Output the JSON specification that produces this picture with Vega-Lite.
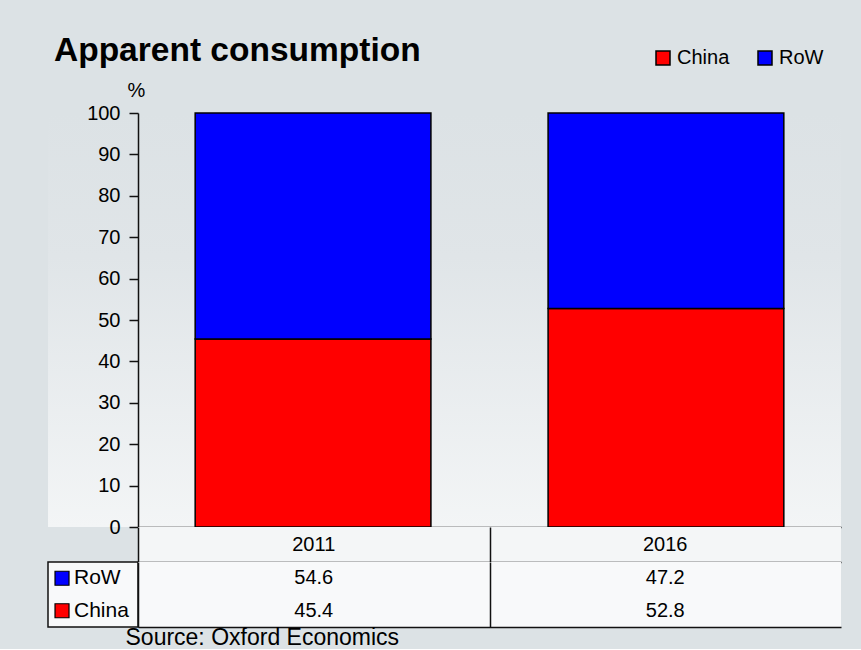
{
  "$schema": "https://vega.github.io/schema/vega-lite/v6.json",
  "background": "#dce2e5",
  "padding": {"left": 47, "right": 21, "top": 33, "bottom": 0},
  "title": {"text": "Apparent consumption", "anchor": "start", "frame": "group", "fontSize": 33.5, "fontWeight": "bold", "font": "Liberation Sans", "color": "#000", "dx": 6, "offset": -20},
  "config": {
    "font": "Liberation Sans",
    "view": {"stroke": null},
    "axis": {"labelFont": "Liberation Sans", "titleFont": "Liberation Sans", "labelColor": "#000", "titleColor": "#000"},
    "legend": {"labelFont": "Liberation Sans", "labelColor": "#000"}
  },
  "datasets": {
    "consumption": [
      {"year": "2011", "series": "China", "value": 45.4},
      {"year": "2011", "series": "RoW", "value": 54.6},
      {"year": "2016", "series": "China", "value": 52.8},
      {"year": "2016", "series": "RoW", "value": 47.2}
    ],
    "years": [{"year": "2011"}, {"year": "2016"}],
    "serieslist": [{"series": "RoW"}, {"series": "China"}]
  },
  "columns": 2,
  "spacing": 0,
  "bounds": "flush",
  "align": "each",
  "resolve": {
    "scale": {"x": "independent", "y": "independent", "color": "independent"},
    "axis": {"x": "independent", "y": "independent"},
    "legend": {"color": "independent"}
  },
  "concat": [
    {
      "width": 90, "height": 414,
      "data": {"name": "years"},
      "view": {"stroke": null, "fill": {"gradient": "linear", "x1": 0, "y1": 0, "x2": 0, "y2": 1, "stops": [{"offset": 0, "color": "#dce2e5"}, {"offset": 0.35, "color": "#e0e5e8"}, {"offset": 1, "color": "#f3f5f6"}]}},
      "mark": {"type": "point", "opacity": 0},
      "encoding": {}
    },
    {
      "width": 703, "height": 414,
      "data": {"name": "consumption"},
      "view": {"stroke": null, "fill": {"gradient": "linear", "x1": 0, "y1": 0, "x2": 0, "y2": 1, "stops": [{"offset": 0, "color": "#dce2e5"}, {"offset": 0.35, "color": "#e0e5e8"}, {"offset": 1, "color": "#f3f5f6"}]}},
      "mark": {"type": "bar", "stroke": "#000", "strokeWidth": 1.5},
      "encoding": {
        "x": {"field": "year", "type": "nominal", "scale": {"paddingInner": 0.332, "paddingOuter": 0.162},
              "axis": {"labels": false, "ticks": false, "title": null, "domain": true, "domainColor": "#111", "domainWidth": 1.5, "grid": false}},
        "y": {"field": "value", "type": "quantitative", "stack": "zero", "scale": {"domain": [0, 100], "nice": false},
              "axis": {"values": [0, 10, 20, 30, 40, 50, 60, 70, 80, 90, 100], "grid": false, "domainColor": "#111", "domainWidth": 1.5, "tickColor": "#111", "tickWidth": 1.5, "tickSize": 9, "labelFontSize": 20, "labelPadding": 9,
                       "title": "%", "titleAngle": 0, "titleAlign": "center", "titleBaseline": "middle", "titleX": -2, "titleY": -23, "titleFontSize": 20, "titleFontWeight": "normal"}},
        "color": {"field": "series", "type": "nominal", "scale": {"domain": ["China", "RoW"], "range": ["#ff0000", "#0000ff"]},
                  "legend": {"orient": "none", "direction": "horizontal", "legendX": 515, "legendY": -65, "title": null, "symbolType": "square", "symbolSize": 196, "symbolStrokeColor": "#000", "symbolStrokeWidth": 1.5, "symbolOpacity": 1, "labelFontSize": 20, "labelOffset": 4, "columnPadding": 25}},
        "order": {"field": "series", "sort": "ascending"}
      }
    },
    {
      "width": 90, "height": 35,
      "data": {"name": "years"},
      "view": {"stroke": null},
      "mark": {"type": "point", "opacity": 0},
      "encoding": {}
    },
    {
      "width": 703, "height": 35,
      "data": {"name": "years"},
      "view": {"stroke": null, "fill": "#f4f6f7"},
      "mark": {"type": "text", "fontSize": 20, "color": "#000"},
      "encoding": {
        "x": {"field": "year", "type": "nominal", "scale": {"paddingInner": 0, "paddingOuter": 0},
              "axis": {"labels": false, "ticks": false, "title": null, "domain": true, "domainColor": "#111", "domainWidth": 1.5, "grid": true, "gridColor": "#111", "gridWidth": 1.5, "tickBand": "extent",
                       "gridOpacity": {"condition": {"test": "datum.index == 1", "value": 0}, "value": 1}}},
        "text": {"field": "year", "type": "nominal"}
      }
    },
    {
      "width": 90, "height": 65,
      "data": {"name": "serieslist"},
      "view": {"stroke": "#111", "strokeWidth": 1.5, "fill": "#f8f9fa"},
      "layer": [
        {
          "mark": {"type": "point", "shape": "square", "filled": true, "size": 196, "stroke": "#000", "strokeWidth": 1.2, "opacity": 1},
          "encoding": {
            "x": {"datum": "swatch", "type": "nominal", "scale": {"type": "band", "domain": ["swatch", "name"], "paddingInner": 0, "paddingOuter": 0.875, "align": 0.048}, "axis": null},
            "y": {"field": "series", "type": "nominal", "scale": {"domain": ["RoW", "China"], "paddingInner": 0, "paddingOuter": 0}, "axis": null},
            "color": {"field": "series", "type": "nominal", "scale": {"domain": ["China", "RoW"], "range": ["#ff0000", "#0000ff"]}, "legend": null}
          }
        },
        {
          "mark": {"type": "text", "align": "left", "fontSize": 21, "color": "#000"},
          "encoding": {
            "x": {"datum": "name", "type": "nominal", "bandPosition": 0},
            "y": {"field": "series", "type": "nominal"},
            "text": {"field": "series", "type": "nominal"}
          }
        }
      ]
    },
    {
      "width": 703, "height": 65,
      "data": {"name": "consumption"},
      "view": {"stroke": null, "fill": "#f8f9fa"},
      "mark": {"type": "text", "fontSize": 20, "color": "#000"},
      "encoding": {
        "x": {"field": "year", "type": "nominal", "scale": {"paddingInner": 0, "paddingOuter": 0},
              "axis": {"labels": false, "ticks": false, "domain": true, "domainColor": "#111", "domainWidth": 1.5, "grid": true, "gridColor": "#111", "gridWidth": 1.5, "tickBand": "extent",
                       "gridOpacity": {"condition": {"test": "datum.index == 1", "value": 0}, "value": 1},
                       "title": "Source: Oxford Economics", "titleAnchor": "start", "titleAlign": "left", "titleBaseline": "middle", "titleX": -13, "titleY": 10, "titleFontSize": 23, "titleFontWeight": "normal"}},
        "y": {"field": "series", "type": "nominal", "scale": {"domain": ["RoW", "China"], "paddingInner": 0, "paddingOuter": 0}, "axis": null},
        "text": {"field": "value", "type": "quantitative", "format": ".1f"}
      }
    }
  ]
}
